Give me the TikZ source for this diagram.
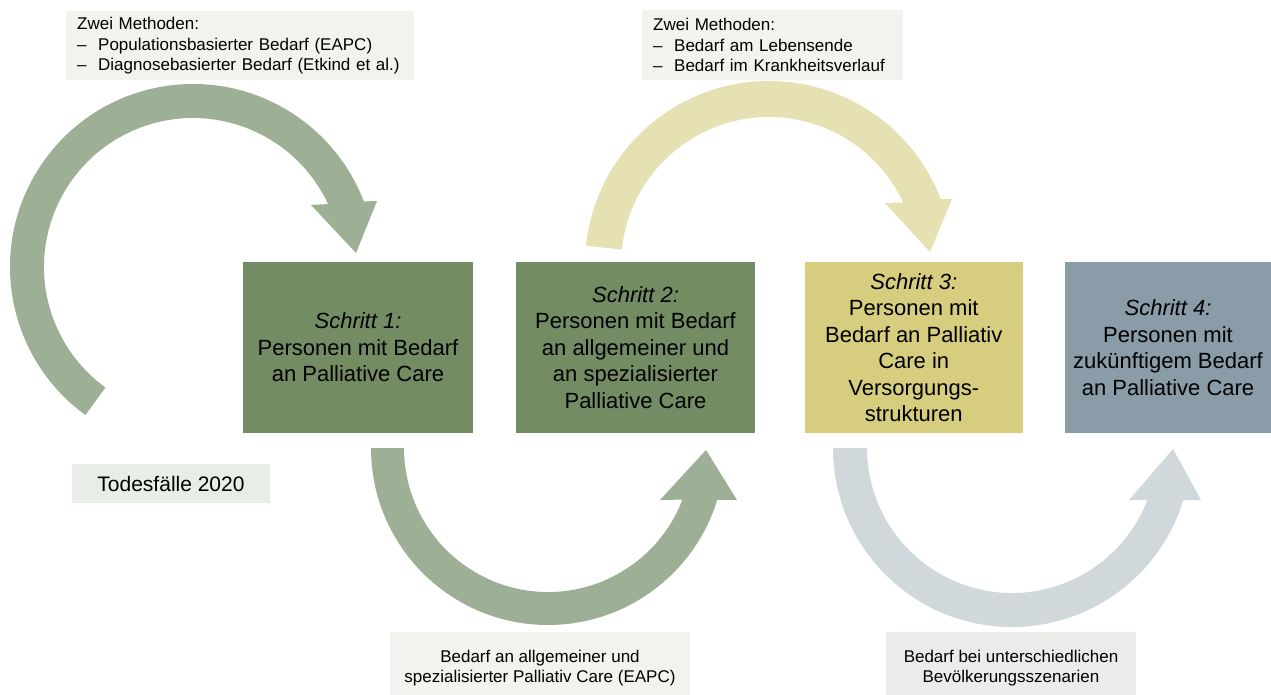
\documentclass[tikz,border=0pt]{standalone}
\usepackage{fontspec}
\setmainfont{Liberation Sans}
\usetikzlibrary{calc}
\definecolor{boxgreen}{HTML}{738C63}
\definecolor{arrowgreen}{HTML}{9DB096}
\definecolor{boxyellow}{HTML}{D6CD7F}
\definecolor{arrowyellow}{HTML}{E6E1B3}
\definecolor{boxgray}{HTML}{8A9CA7}
\definecolor{arrowgray}{HTML}{D0D8DB}
\definecolor{lblfill}{HTML}{F2F3EF}
\definecolor{lblfillb}{HTML}{E9EDE7}
\definecolor{lblfillc}{HTML}{E9ECE8}
\begin{document}
\begin{tikzpicture}[x=1pt,y=-1pt,
  stepbox/.style={inner sep=0pt, minimum height=171pt, align=center,
    font=\fontsize{22}{26.5}\selectfont, text=black},
  lbl/.style={fill=lblfill, inner sep=0pt},
  lbltext/.style={inner sep=0pt, align=center, font=\fontsize{17}{20.5}\selectfont, text=black},
  toplbl/.style={lbl, anchor=north west, inner xsep=11pt, align=left,
    font=\fontsize{17}{20.5}\selectfont, text=black}
]
\useasboundingbox (0,0) rectangle (1271,695);

% arrow centres
\coordinate (c1) at (193,267);
\coordinate (c2) at (548,448);
\coordinate (c3) at (769,265);
\coordinate (c4) at (1012,448);

% arrow 1 (green, top left)
\fill[arrowgreen] ($(c1)+(126:183)$) arc[start angle=126, end angle=339, radius=183]
  -- (377,201) -- (356,253) -- (311,205) -- ($(c1)+(335:149)$)
  arc[start angle=335, end angle=126, radius=149] -- cycle;
% arrow 2 (green, bottom)
\fill[arrowgreen] ($(c2)+(180:177)$) arc[start angle=180, end angle=17, radius=177]
  -- (737,500) -- (706,450) -- (660,500) -- ($(c2)+(21:144)$)
  arc[start angle=21, end angle=180, radius=144] -- cycle;
% arrow 3 (yellow, top)
\fill[arrowyellow] ($(c3)+(186:184)$) arc[start angle=186, end angle=339, radius=184]
  -- (952,199) -- (930,252) -- (885,203) -- ($(c3)+(335:148)$)
  arc[start angle=335, end angle=186, radius=148] -- cycle;
% arrow 4 (gray, bottom)
\fill[arrowgray] ($(c4)+(180:179)$) arc[start angle=180, end angle=17, radius=179]
  -- (1201,500) -- (1173,449) -- (1129,500) -- ($(c4)+(21:145)$)
  arc[start angle=21, end angle=180, radius=145] -- cycle;

% step boxes
\node[stepbox, fill=boxgreen, minimum width=230pt] (s1) at (358,347.5)
  {\textit{Schritt 1:}\\Personen mit Bedarf\\an Palliative Care};
\node[stepbox, fill=boxgreen, minimum width=239pt] (s2) at (635.5,347.5)
  {\textit{Schritt 2:}\\Personen mit Bedarf\\an allgemeiner und\\an spezialisierter\\Palliative Care};
\node[stepbox, fill=boxyellow, minimum width=217.5pt] (s3) at (913.75,347.5)
  {\textit{Schritt 3:}\\Personen mit\\Bedarf an Palliativ\\Care in\\Versorgungs-\\strukturen};
\node[stepbox, fill=boxgray, minimum width=206pt] (s4) at (1168,347.5)
  {\textit{Schritt 4:}\\Personen mit\\zukünftigem Bedarf\\an Palliative Care};

% top labels
\node[toplbl, minimum width=348pt, minimum height=69pt, text width=326pt] (m1) at (66,11)
  {Zwei Methoden:\\\makebox[21pt][l]{–}Populationsbasierter Bedarf (EAPC)\\\makebox[21pt][l]{–}Diagnosebasierter Bedarf (Etkind et al.)};
\node[toplbl, minimum width=261pt, minimum height=70pt, text width=239pt] (m2) at (642,10)
  {Zwei Methoden:\\\makebox[21pt][l]{–}Bedarf am Lebensende\\\makebox[21pt][l]{–}Bedarf im Krankheitsverlauf};

% Todesfälle
\node[lbl, fill=lblfillb, minimum width=198pt, minimum height=39pt,
  font=\fontsize{21}{25}\selectfont, text=black] (tf) at (171,483.5) {Todesfälle 2020};

% bottom labels
\node[lbl, minimum width=300pt, minimum height=63pt] (b1) at (540,663.5) {};
\node[lbltext] (b1t) at ([yshift=-4.5pt]b1.center)
  {Bedarf an allgemeiner und\\spezialisierter Palliativ Care (EAPC)};
\node[lbl, fill=lblfillc, minimum width=250pt, minimum height=63pt] (b2) at (1011,663.5) {};
\node[lbltext] (b2t) at ([yshift=-4.5pt]b2.center)
  {Bedarf bei unterschiedlichen\\Bevölkerungsszenarien};
\end{tikzpicture}
\end{document}
